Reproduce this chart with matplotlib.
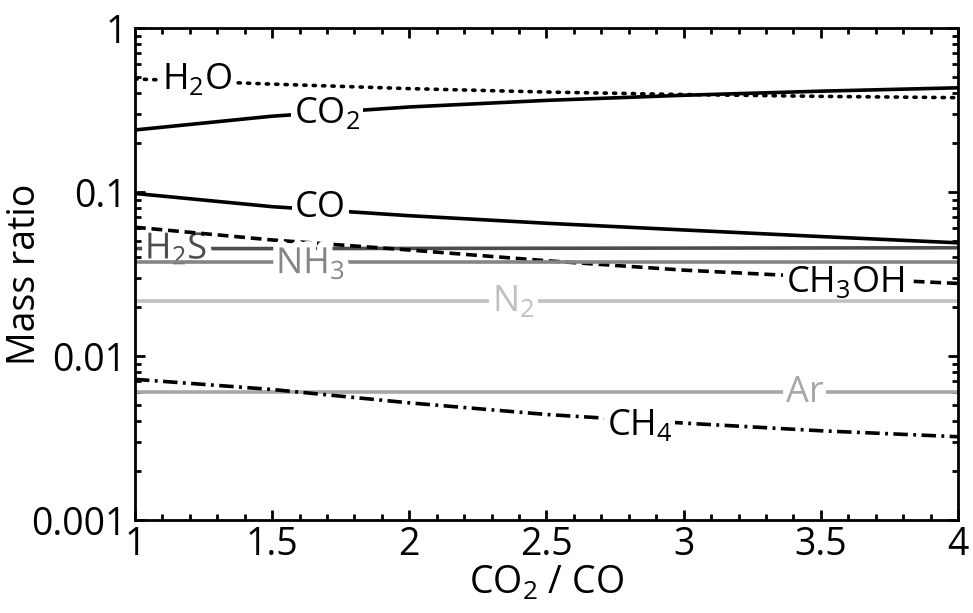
import numpy as np
import matplotlib
matplotlib.use('Agg')
import matplotlib.pyplot as plt
import matplotlib.patheffects as pe
from matplotlib.ticker import FixedLocator, LogLocator, NullFormatter, MultipleLocator

plt.rcParams['font.family'] = 'Open Sans'
plt.rcParams['mathtext.default'] = 'regular'

# CO2/CO ratio (x) and mass ratios of each species
ratio = [1, 1.5, 2, 2.5, 3, 3.5, 4]
h2o = [0.489, 0.455, 0.427, 0.407, 0.393, 0.383, 0.376]
co2 = [0.239, 0.290, 0.330, 0.362, 0.389, 0.412, 0.432]
co = [0.098, 0.0814, 0.0717, 0.0645, 0.0587, 0.0535, 0.049]
ch3oh = [0.061, 0.051, 0.0443, 0.0381, 0.0334, 0.0303, 0.0277]
h2s = [0.0452, 0.0452, 0.0453, 0.0454, 0.0455, 0.0456, 0.0457]
nh3 = [0.0372, 0.0372, 0.0372, 0.0372, 0.0372, 0.0372, 0.0372]
n2 = [0.0218, 0.0218, 0.0218, 0.0218, 0.0218, 0.0218, 0.0218]
ar = [0.006, 0.006, 0.006, 0.006, 0.006, 0.006, 0.006]
ch4 = [0.00721, 0.00625, 0.00518, 0.0044, 0.0039, 0.0035, 0.00322]

# label: (x, y, colour, zorder, style) -- 'box' breaks the line with a white box,
# 'halo' with a white outline (for labels packed too close for a box)
labels = {
    'H$_2$O': (1.226, 0.48, 'black', 5, 'box'),
    'CO$_2$': (1.70, 0.30, 'black', 5, 'box'),
    'CO': (1.675, 0.080, 'black', 5, 'box'),
    'CH$_3$OH': (3.59, 0.028, 'black', 4.5, 'box'),
    'CH$_4$': (2.84, 0.00375, 'black', 5, 'box'),
    'H$_2$S': (1.15, 0.0445, '#4d4d4d', 3, 'halo'),
    'NH$_3$': (1.64, 0.0362, '#858585', 4.8, 'halo'),
    'N$_2$': (2.38, 0.0212, '#c0c0c0', 4.8, 'box'),
    'Ar': (3.44, 0.00595, '#a8a8a8', 2.5, 'box'),
}

fig = plt.figure(figsize=(9.73, 6.13), dpi=100)
ax = fig.add_axes([0.1387, 0.1517, 0.8459, 0.8026])

lw = 2.6
ax.plot(ratio, ar, color='#a8a8a8', lw=lw, zorder=2)
ax.plot(ratio, h2s, color='#4d4d4d', lw=lw, zorder=2)
ax.plot(ratio, h2o, color='black', lw=lw, linestyle=(0, (0.6, 2.0)), dash_capstyle='round', zorder=4)
ax.plot(ratio, co2, color='black', lw=lw, zorder=4)
ax.plot(ratio, co, color='black', lw=lw, zorder=4)
ax.plot(ratio, ch3oh, color='black', lw=lw, linestyle=(0, (3, 1.6)), zorder=4)
ax.plot(ratio, ch4, color='black', lw=lw, linestyle=(0, (4, 1.5, 0.8, 1.5)), zorder=4)
ax.plot(ratio, n2, color='#c0c0c0', lw=lw, zorder=4.7)
ax.plot(ratio, nh3, color='#858585', lw=lw, zorder=4.7)

for name, (lx, ly, col, z, style) in labels.items():
    if style == 'halo':
        ax.text(lx, ly, name, fontsize=26, color=col, ha='center', va='center', zorder=z,
                path_effects=[pe.withStroke(linewidth=9, foreground='white')])
    else:
        ax.text(lx, ly, name, fontsize=26, color=col, ha='center', va='center', zorder=z,
                bbox=dict(facecolor='white', edgecolor='none', pad=2.0))

ax.set_yscale('log')
ax.set_xlim(1, 4)
ax.set_ylim(0.001, 1)

ax.set_xticks([1, 1.5, 2, 2.5, 3, 3.5, 4])
ax.set_xticklabels(['1', '1.5', '2', '2.5', '3', '3.5', '4'])
ax.xaxis.set_minor_locator(MultipleLocator(0.1))
ax.yaxis.set_major_locator(FixedLocator([0.001, 0.01, 0.1, 1]))
ax.set_yticklabels(['0.001', '0.01', '0.1', '1'])
ax.yaxis.set_minor_locator(LogLocator(base=10, subs=np.arange(2, 10)))
ax.yaxis.set_minor_formatter(NullFormatter())

ax.tick_params(which='both', direction='in', top=True, right=True, width=2, labelsize=27)
ax.tick_params(which='major', length=7, pad=4)
ax.tick_params(axis='y', which='major', pad=6)
ax.tick_params(which='minor', length=4)
for s in ax.spines.values():
    s.set_linewidth(2)
    s.set_zorder(6)

ax.set_xlabel('CO$_2$ / CO', fontsize=27)
ax.set_ylabel('Mass ratio', fontsize=27)
ax.xaxis.set_label_coords(0.5, -0.09)
ax.yaxis.set_label_coords(-0.11, 0.5)

fig.savefig('out.png', dpi=100)
